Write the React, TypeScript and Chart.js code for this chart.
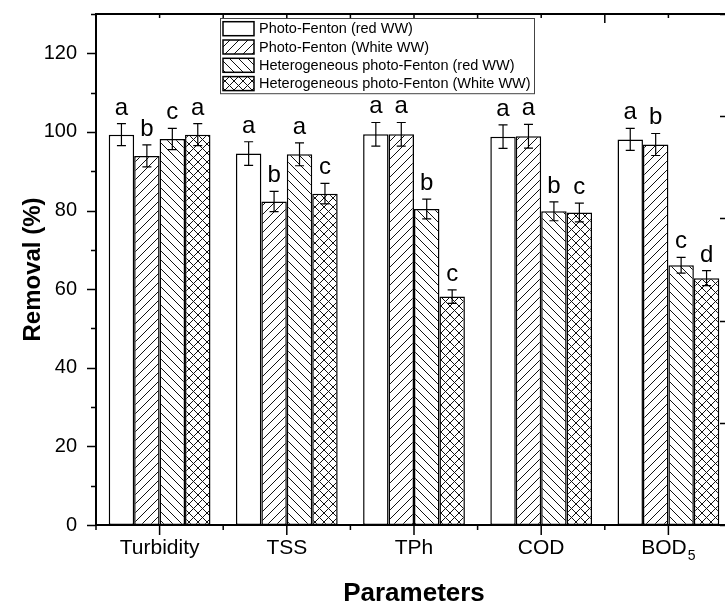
import React, { useEffect, useRef } from "react";
import { Chart, registerables } from "chart.js";

Chart.register(...registerables);

// ---- data ----
const categories = ["Turbidity", "TSS", "TPh", "COD", "BOD₅"];
const seriesNames = [
  "Photo-Fenton (red WW)",
  "Photo-Fenton (White WW)",
  "Heterogeneous photo-Fenton (red WW)",
  "Heterogeneous photo-Fenton (White WW)",
];
const photoFentonRed = [99.3, 94.5, 99.4, 98.8, 98.1];
const photoFentonWhite = [93.9, 82.3, 99.4, 98.9, 96.8];
const heteroRed = [98.2, 94.3, 80.4, 79.8, 66.1];
const heteroWhite = [99.3, 84.3, 58.1, 79.5, 62.8];

const errRed = [2.8, 3.0, 3.0, 3.0, 2.8];
const errWhite = [2.8, 2.6, 3.0, 3.0, 2.8];
const errHeteroRed = [2.7, 2.9, 2.5, 2.4, 2.0];
const errHeteroWhite = [2.8, 2.6, 1.7, 2.4, 1.9];

const lettersRed = ["a", "a", "a", "a", "a"];
const lettersWhite = ["b", "b", "a", "a", "b"];
const lettersHeteroRed = ["c", "a", "b", "b", "c"];
const lettersHeteroWhite = ["a", "c", "c", "c", "d"];

const yMin = 0;
const yMax = 130;
const yMajorStep = 20;
const yMinorStep = 10;
const rightAxisTicks = [0, 1, 2, 3, 4, 5];

const FONT = "'Liberation Sans', Arial, Helvetica, sans-serif";

type Kind = "none" | "fwd" | "back" | "cross";
const kinds: Kind[] = ["none", "fwd", "back", "cross"];

function makePattern(kind: Kind): CanvasPattern | string {
  if (kind === "none") return "#ffffff";
  const s = 9;
  const c = document.createElement("canvas");
  c.width = s;
  c.height = s;
  const g = c.getContext("2d")!;
  g.fillStyle = "#ffffff";
  g.fillRect(0, 0, s, s);
  g.strokeStyle = "#111";
  g.lineWidth = 1;
  const fwd = () => {
    g.beginPath();
    g.moveTo(-1, s + 1);
    g.lineTo(s + 1, -1);
    g.moveTo(-2, 2);
    g.lineTo(2, -2);
    g.moveTo(s - 2, s + 2);
    g.lineTo(s + 2, s - 2);
    g.stroke();
  };
  const back = () => {
    g.beginPath();
    g.moveTo(-1, -1);
    g.lineTo(s + 1, s + 1);
    g.moveTo(s - 2, -2);
    g.lineTo(s + 2, 2);
    g.moveTo(-2, s - 2);
    g.lineTo(2, s + 2);
    g.stroke();
  };
  if (kind === "fwd") fwd();
  if (kind === "back") back();
  if (kind === "cross") {
    fwd();
    back();
  }
  return g.createPattern(c, "repeat")!;
}

const SUBS = "₀₁₂₃₄₅₆₇₈₉";

function drawLabelWithSub(ctx: CanvasRenderingContext2D, text: string, cx: number, baseY: number, size: number) {
  let base = "";
  let sub = "";
  for (const ch of text) {
    const i = SUBS.indexOf(ch);
    if (i >= 0) sub += String(i);
    else base += ch;
  }
  const subSize = Math.round(size * 0.68);
  ctx.font = `${size}px ${FONT}`;
  const wb = ctx.measureText(base).width;
  ctx.font = `${subSize}px ${FONT}`;
  const ws = sub ? ctx.measureText(sub).width + 1 : 0;
  const x0 = cx - (wb + ws) / 2;
  ctx.textAlign = "left";
  ctx.textBaseline = "alphabetic";
  ctx.font = `${size}px ${FONT}`;
  ctx.fillText(base, x0, baseY);
  if (sub) {
    ctx.font = `${subSize}px ${FONT}`;
    ctx.fillText(sub, x0 + wb + 1, baseY + size * 0.28);
  }
}

function noPad(s: any) {
  s.paddingTop = 0;
  s.paddingBottom = 0;
  s.paddingLeft = 0;
  s.paddingRight = 0;
}

export default function App() {
  const ref = useRef<HTMLCanvasElement | null>(null);

  useEffect(() => {
    if (!ref.current) return;
    const values = [photoFentonRed, photoFentonWhite, heteroRed, heteroWhite];
    const errors = [errRed, errWhite, errHeteroRed, errHeteroWhite];
    const letters = [lettersRed, lettersWhite, lettersHeteroRed, lettersHeteroWhite];
    const patterns = kinds.map(makePattern);

    const overlay = {
      id: "overlay",
      afterDatasetsDraw(chart: any) {
        const ctx: CanvasRenderingContext2D = chart.ctx;
        const y = chart.scales.y;
        ctx.save();
        chart.data.datasets.forEach((ds: any, di: number) => {
          const meta = chart.getDatasetMeta(di);
          meta.data.forEach((bar: any, i: number) => {
            const v = values[di][i];
            const e = errors[di][i];
            const x = bar.x;
            const yt = y.getPixelForValue(v + e);
            const yb = y.getPixelForValue(v - e);
            ctx.strokeStyle = "#000";
            ctx.lineWidth = 1.2;
            ctx.beginPath();
            ctx.moveTo(x, yt);
            ctx.lineTo(x, yb);
            ctx.moveTo(x - 4.5, yt);
            ctx.lineTo(x + 4.5, yt);
            ctx.moveTo(x - 4.5, yb);
            ctx.lineTo(x + 4.5, yb);
            ctx.stroke();
            ctx.fillStyle = "#000";
            ctx.font = `24px ${FONT}`;
            ctx.textAlign = "center";
            ctx.textBaseline = "alphabetic";
            ctx.fillText(letters[di][i], x, yt - 9);
          });
        });
        ctx.restore();
      },
      afterDraw(chart: any) {
        const ctx: CanvasRenderingContext2D = chart.ctx;
        const { left, right, top, bottom } = chart.chartArea;
        const xs = chart.scales.x;
        const ys = chart.scales.y;
        const y2 = chart.scales.y2;
        ctx.save();
        ctx.strokeStyle = "#000";
        ctx.lineWidth = 2;
        ctx.strokeRect(left, top, right - left, bottom - top);

        ctx.lineWidth = 1.5;
        ctx.beginPath();
        // left axis ticks (outward)
        for (let v = yMin; v <= yMax; v += yMinorStep) {
          const p = Math.round(ys.getPixelForValue(v)) + 0.5;
          const len = v % yMajorStep === 0 ? 9 : 5;
          ctx.moveTo(left, p);
          ctx.lineTo(left - len, p);
        }
        // bottom and top ticks
        categories.forEach((_, i) => {
          const c = xs.getPixelForValue(i);
          ctx.moveTo(c, bottom);
          ctx.lineTo(c, bottom + 10);
          ctx.moveTo(c, top);
          ctx.lineTo(c, top + 4);
          const b = xs.getPixelForValue(i - 0.5);
          ctx.moveTo(b, bottom);
          ctx.lineTo(b, bottom + 5);
          ctx.moveTo(b, top);
          ctx.lineTo(b, top + 9);
        });
        // right axis ticks (inward)
        rightAxisTicks.forEach((v) => {
          const p = Math.round(y2.getPixelForValue(v)) + 0.5;
          ctx.moveTo(right, p);
          ctx.lineTo(right - 12, p);
        });
        ctx.stroke();

        // category labels
        ctx.fillStyle = "#000";
        categories.forEach((lab, i) => {
          drawLabelWithSub(ctx, lab, xs.getPixelForValue(i), bottom + 29, 21);
        });

        // legend
        const lx = 220;
        const ly = 18;
        const lw = 314;
        const rowH = 18.3;
        const lh = rowH * seriesNames.length + 2;
        ctx.fillStyle = "#fff";
        ctx.fillRect(lx, ly, lw, lh);
        ctx.strokeStyle = "#444";
        ctx.lineWidth = 1;
        ctx.strokeRect(lx + 0.5, ly + 0.5, lw, lh);
        seriesNames.forEach((name, i) => {
          const sy = ly + 3.7 + i * rowH;
          ctx.fillStyle = patterns[i] as any;
          ctx.fillRect(lx + 3, sy, 31, 14);
          ctx.strokeStyle = "#000";
          ctx.lineWidth = 1.5;
          ctx.strokeRect(lx + 3, sy, 31, 14);
          ctx.fillStyle = "#000";
          ctx.font = `14.5px ${FONT}`;
          ctx.textAlign = "left";
          ctx.textBaseline = "middle";
          ctx.fillText(name, lx + 39, sy + 7.5);
        });
        ctx.restore();
      },
    };

    const chart = new Chart(ref.current, {
      type: "bar",
      data: {
        labels: categories,
        datasets: seriesNames.map((name, i) => ({
          label: name,
          data: values[i],
          backgroundColor: patterns[i] as any,
          borderColor: "#000",
          borderWidth: 1.5,
          borderSkipped: false,
          categoryPercentage: 0.8,
          barPercentage: 1.0,
          yAxisID: "y",
        })),
      },
      options: {
        responsive: false,
        animation: false,
        devicePixelRatio: 1,
        layout: { padding: { top: 14, left: 0, right: 0, bottom: 0 } },
        plugins: {
          legend: { display: false },
          tooltip: { enabled: false },
        },
        scales: {
          x: {
            type: "category",
            offset: true,
            grid: { display: false, drawTicks: false, tickLength: 0 },
            border: { display: false },
            ticks: { display: false },
            title: {
              display: true,
              text: "Parameters",
              color: "#000",
              font: { family: FONT, size: 26, weight: "bold" },
              padding: { top: 0, bottom: 0 },
            },
            afterFit: (s: any) => {
              s.height = 84;
              noPad(s);
            },
          },
          y: {
            type: "linear",
            position: "left",
            min: yMin,
            max: yMax,
            grid: { display: false, drawTicks: false, tickLength: 0 },
            border: { display: false },
            ticks: {
              stepSize: yMajorStep,
              includeBounds: false,
              color: "#000",
              padding: 19,
              font: { family: FONT, size: 20 },
            },
            title: {
              display: true,
              text: "Removal (%)",
              color: "#000",
              font: { family: FONT, size: 24, weight: "bold" },
              padding: { top: 19, bottom: 0 },
            },
            afterFit: (s: any) => {
              s.width = 96;
              noPad(s);
            },
          },
          y2: {
            type: "linear",
            position: "right",
            min: rightAxisTicks[0],
            max: rightAxisTicks[rightAxisTicks.length - 1],
            grid: { display: false, drawTicks: false, tickLength: 0 },
            border: { display: false },
            ticks: { display: false, stepSize: 1 },
            afterFit: (s: any) => {
              s.width = 13;
              noPad(s);
            },
          },
        },
      } as any,
      plugins: [overlay],
    });
    return () => chart.destroy();
  }, []);

  return (
    <div
      style={{
        position: "fixed",
        left: 0,
        top: 0,
        width: 725,
        height: 609,
        overflow: "hidden",
        background: "#fff",
      }}
    >
      <canvas ref={ref} width={745} height={609} style={{ display: "block", width: 745, height: 609 }} />
    </div>
  );
}
